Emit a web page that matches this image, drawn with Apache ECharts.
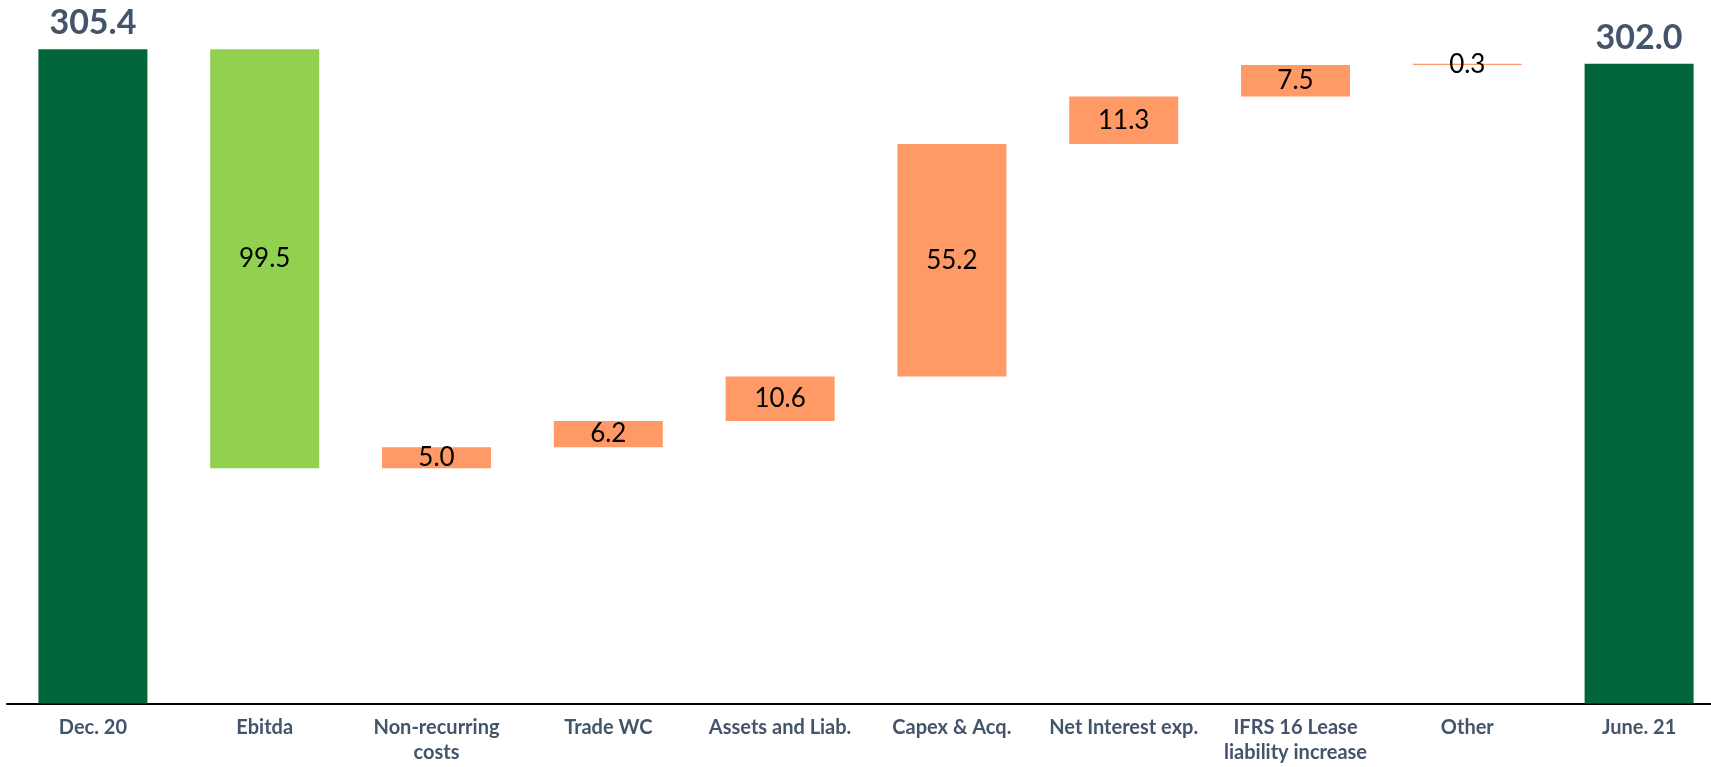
<!DOCTYPE html>
<html>
<head>
<meta charset="utf-8">
<script src="https://cdn.jsdelivr.net/npm/echarts@6/dist/echarts.min.js"></script>
<style>html,body{margin:0;padding:0;background:#fff;overflow:hidden}#c{width:1725px;height:767px}</style>
</head>
<body>
<div id="c"></div>
<script>
const categories = ['Dec. 20', 'Ebitda', 'Non-recurring\ncosts', 'Trade WC', 'Assets and Liab.', 'Capex & Acq.', 'Net Interest exp.', 'IFRS 16 Lease\nliability increase', 'Other', 'June. 21'];
const startValue = 305.4;
const endValue = 302.0;
// signed changes to net debt (negative = reduction)
const changes = [null, -99.5, 5.0, 6.2, 10.6, 55.2, 11.3, 7.5, 0.3, null];
const kinds = ['total', 'down', 'up', 'up', 'up', 'up', 'up', 'up', 'up', 'total'];

const colors = { total: '#00663A', down: '#92D050', up: '#FF9966' };

const baseData = [];
const visData = [];
let running = startValue;
for (let i = 0; i < categories.length; i++) {
  if (kinds[i] === 'total') {
    const v = i === 0 ? startValue : endValue;
    baseData.push(0);
    visData.push({ value: v, itemStyle: { color: colors.total }, label: {
      show: true, position: 'top', distance: 9, color: '#44546A', fontFamily: 'Lato', fontWeight: 'bold', fontSize: 34,
      formatter: v.toFixed(1) } });
  } else {
    const c = changes[i];
    const lo = c < 0 ? running + c : running;
    running += c;
    baseData.push(lo);
    visData.push({ value: Math.abs(c), itemStyle: { color: colors[kinds[i]] }, label: {
      show: true, position: 'inside', color: '#000', fontFamily: 'Lato', fontSize: 26,
      formatter: Math.abs(c).toFixed(1) } });
  }
}

const chart = echarts.init(document.getElementById('c'), null, { renderer: 'canvas' });
chart.setOption({
  animation: false,
  grid: { left: 7, right: 0, top: 30, bottom: 63.5, containLabel: false },
  xAxis: {
    type: 'category',
    data: categories,
    axisLine: { show: true, lineStyle: { color: '#000', width: 2 } },
    axisTick: { show: false },
    axisLabel: { color: '#44546A', fontFamily: 'Lato', fontWeight: 'bold', fontSize: 20, lineHeight: 25, margin: 12, interval: 0 }
  },
  yAxis: { type: 'value', min: 150, max: 310, show: false, splitLine: { show: false } },
  series: [
    { type: 'bar', stack: 'w', data: baseData, barWidth: 109, itemStyle: { color: 'transparent' }, silent: true },
    { type: 'bar', stack: 'w', data: visData, barWidth: 109 }
  ]
});
</script>
</body>
</html>
